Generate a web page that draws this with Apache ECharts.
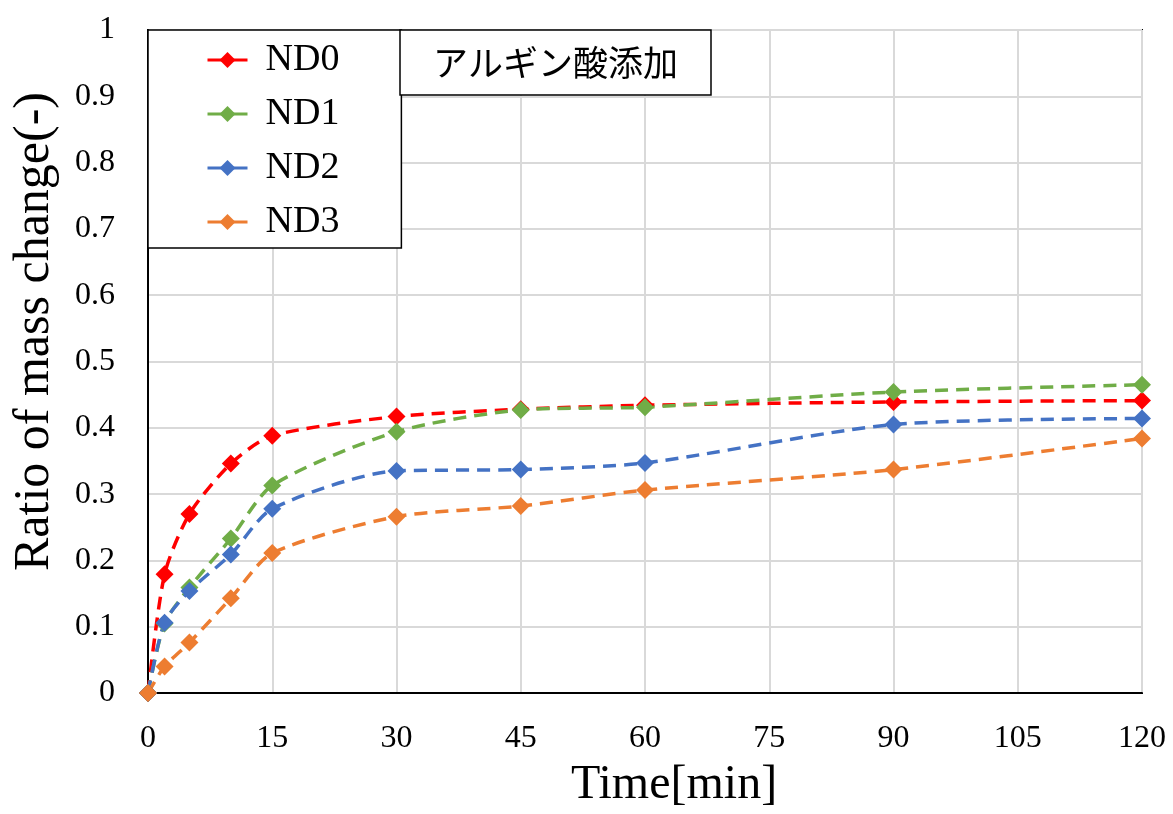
<!DOCTYPE html>
<html lang="ja">
<head>
<meta charset="utf-8">
<title>Ratio of mass change</title>
<script src="https://cdn.jsdelivr.net/npm/echarts@6/dist/echarts.min.js"></script>
<style>
  html, body { margin: 0; padding: 0; background: #fff; }
  #main { width: 1173px; height: 814px; }
</style>
</head>
<body>
<div id="main"></div>
<script type="text/javascript">
// time points [min]
let timeList = [0, 2, 5, 10, 15, 30, 45, 60, 90, 120];

// ratio of mass change
let nd0List = [0, 0.179, 0.270, 0.346, 0.388, 0.417, 0.428, 0.434, 0.439, 0.441];
let nd1List = [0, 0.105, 0.159, 0.233, 0.313, 0.394, 0.427, 0.431, 0.454, 0.465];
let nd2List = [0, 0.106, 0.154, 0.209, 0.278, 0.335, 0.337, 0.347, 0.405, 0.414];
let nd3List = [0, 0.040, 0.076, 0.143, 0.211, 0.266, 0.282, 0.306, 0.337, 0.384];

let seriesNames = ['ND0', 'ND1', 'ND2', 'ND3'];
let seriesColors = ['#ff0000', '#70ad47', '#4472c4', '#ed7d31'];
let seriesData = [nd0List, nd1List, nd2List, nd3List];

const serif = "'Liberation Serif', 'Times New Roman', serif";

let chartSeries = [];
seriesNames.forEach((name, i) => {
    chartSeries.push({
        name: name,
        type: 'line',
        smooth: 0.25,
        clip: false,
        data: timeList.map((t, j) => [t, seriesData[i][j]]),
        symbol: 'diamond',
        symbolSize: 18,
        itemStyle: { color: seriesColors[i] },
        lineStyle: { color: seriesColors[i], width: 3.5, type: [13, 8] }
    });
});

let Chart = echarts.init(document.getElementById('main'));

let option = {
    animation: false,
    title: {
        text: 'アルギン酸添加',
        left: 400,
        top: 30,
        padding: [15, 33, 15, 33],
        backgroundColor: '#fff',
        borderColor: '#000',
        borderWidth: 1.5,
        textStyle: {
            fontFamily: "'Noto Sans CJK JP', sans-serif",
            fontSize: 35,
            fontWeight: 'normal',
            color: '#000'
        }
    },
    legend: {
        data: seriesNames,
        orient: 'vertical',
        left: 148,
        top: 30,
        padding: [11, 62, 7, 58],
        itemWidth: 40,
        itemHeight: 20,
        itemGap: 16,
        backgroundColor: '#fff',
        borderColor: '#000',
        borderWidth: 1.5,
        lineStyle: { type: 'solid', width: 3 },
        textStyle: {
            fontFamily: serif,
            fontSize: 38,
            color: '#000',
            padding: [0, 0, 0, 13]
        }
    },
    grid: {
        left: 148,
        right: 31,
        top: 30,
        bottom: 120,
        show: true,
        borderColor: '#000',
        borderWidth: 2
    },
    xAxis: {
        type: 'value',
        min: 0,
        max: 120,
        interval: 15,
        name: 'Time[min]',
        nameLocation: 'middle',
        nameGap: 68,
        nameTextStyle: {
            fontFamily: serif,
            fontSize: 48,
            color: '#000',
            padding: [0, 0, 0, 58]
        },
        axisLine: { lineStyle: { color: '#000', width: 2 } },
        axisTick: { show: false },
        axisLabel: {
            fontFamily: serif,
            fontSize: 32,
            color: '#000',
            margin: 30
        },
        splitLine: { lineStyle: { color: '#d9d9d9', width: 2 } }
    },
    yAxis: {
        type: 'value',
        min: 0,
        max: 1,
        interval: 0.1,
        name: 'Ratio of mass change(-)',
        nameLocation: 'middle',
        nameGap: 88,
        nameTextStyle: {
            fontFamily: serif,
            fontSize: 50,
            color: '#000',
            padding: [0, 0, 0, 60]
        },
        axisLine: { show: true, lineStyle: { color: '#000', width: 2 } },
        axisTick: { show: false },
        axisLabel: {
            fontFamily: serif,
            fontSize: 32,
            color: '#000',
            margin: 33,
            formatter: (v) => String(+v.toFixed(1))
        },
        splitLine: { lineStyle: { color: '#d9d9d9', width: 2 } }
    },
    series: chartSeries
};

Chart.setOption(option);
</script>
</body>
</html>
